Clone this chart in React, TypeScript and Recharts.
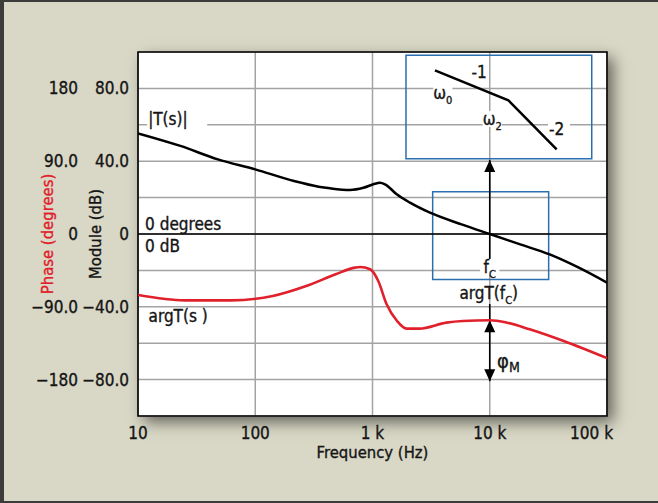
import React from 'react';
import {
  ComposedChart,
  Line,
  XAxis,
  YAxis,
  CartesianGrid,
  ReferenceLine,
  ReferenceArea,
  ReferenceDot,
  Label,
} from 'recharts';

const FONT = "'DejaVu Sans Condensed', 'Liberation Sans Narrow', 'DejaVu Sans', sans-serif";
const INK = '#151515';
const RED = '#e0202a';
const BLUE = '#2b6fae';

// |T(s)| in dB
const magFreq = [10, 23, 48, 100, 214, 347, 435, 643, 836, 1016, 1160, 1280, 1610, 2090, 3090, 5750, 10000, 18200, 32400, 57500, 100000];
const magDb = [55.3, 48.4, 41, 35.5, 29.1, 26, 25.1, 24.2, 25.4, 27.3, 28.2, 27.3, 21.8, 17.2, 11.7, 5.3, 0, -5.7, -11.2, -18.5, -26.7];

// argT(s) in degrees
const phaseFreq = [10, 25, 62, 141, 272, 485, 708, 783, 955, 1120, 1320, 1620, 1950, 2510, 4270, 5890, 10000, 14000, 21900, 42700, 100000];
const phaseDeg = [-75.4, -82, -82, -76.6, -64.3, -49.8, -41.6, -40.8, -43.6, -58.1, -86.9, -107.6, -117, -117, -109.6, -107.6, -106.7, -109.6, -117.8, -132.3, -153.5];

// asymptote sketch in the inset (-1 / -2 slopes)
const asymFreq = [3410, 14400, 37200];
const asymDb = [89.9, 73.5, 46.5];

// axes
const freqTicks = [10, 100, 1000, 10000, 100000];
const freqLabels = ['10', '100', '1 k', '10 k', '100 k'];
const dbGrid = [-100, -80, -60, -40, -20, 0, 20, 40, 60, 80, 100];
const dbTickValues = [80, 40, 0, -40, -80];
const dbTickLabels = ['80.0', '40.0', '0', '\u221240.0', '\u221280.0'];
const phaseTickLabels = ['180', '90.0', '0', '\u221290.0', '\u2212180'];

// crossover frequency and phase margin
const fc = 10000;
const phaseAtFc = -106.7;

const magData = magFreq.map((f, i) => ({ f, v: magDb[i] }));
const phaseData = phaseFreq.map((f, i) => ({ f, v: phaseDeg[i] }));
const asymData = asymFreq.map((f, i) => ({ f, v: asymDb[i] }));

const boxes = [
  { f1: 1930, f2: 74100, lo: 41.4, hi: 98.2 },
  { f1: 3260, f2: 31800, lo: -25, hi: 23.2 },
];

const notes = [
  { f: 12.2, db: 63.2, main: '|T(s)|', anchor: 'start', bg: true },
  { f: 11.5, db: 5.7, main: '0 degrees', anchor: 'start' },
  { f: 11.5, db: -6.6, main: '0 dB', anchor: 'start' },
  { f: 12.3, db: -45, main: 'argT(s )', anchor: 'start' },
  { f: 10000, db: -18.1, main: 'f', sub: 'C', anchor: 'middle', bg: true },
  { f: 9800, db: -32.4, main: 'argT(f', sub: 'C', tail: ')', anchor: 'middle' },
  { f: 11540, db: -69.8, main: '\u03c6', sub: 'M', anchor: 'start', big: true },
  { f: 3980, db: 77.5, main: '\u03c9', sub: '0', anchor: 'middle', bg: true },
  { f: 8100, db: 89, main: '-1', anchor: 'middle' },
  { f: 10500, db: 63.2, main: '\u03c9', sub: '2', anchor: 'middle', bg: true },
  { f: 32000, db: 57.7, main: '-2', anchor: 'start', bg: true },
];

const Note = ({ cx, cy, note }: any) => {
  const fs = note.big ? 20 : 17;
  const len = note.main.length + (note.sub ? note.sub.length * 0.7 : 0) + (note.tail ? note.tail.length : 0);
  const w = len * fs * 0.56 + 3;
  const left = note.anchor === 'start' ? cx - 1 : cx - w / 2;
  return (
    <g>
      {note.bg && <rect x={left} y={cy - 8} width={w} height={16} fill="#fff" />}
      <text
        x={cx}
        y={cy}
        dy="0.35em"
        textAnchor={note.anchor}
        fontFamily={FONT}
        fontSize={fs}
        fill={INK}
        stroke={INK}
        strokeWidth={0.35}
      >
        {note.main}
        {note.sub && (
          <tspan fontSize={note.big ? 14 : 11} dy={note.big ? 4 : 5}>
            {note.sub}
          </tspan>
        )}
        {note.tail && <tspan fontSize={fs} dy={-5}>{note.tail}</tspan>}
      </text>
    </g>
  );
};

const head = (x: number, y: number, dir: number) => (
  <polygon points={`${x},${y} ${x - 5.5},${y - dir * 12} ${x + 5.5},${y - dir * 12}`} fill="#000" />
);

// vertical arrow; heads drawn at start and/or end of the segment
const arrow = (startHead: boolean, endHead: boolean) => (p: any) => {
  const { x1, y1, x2, y2 } = p;
  const d = y2 > y1 ? 1 : -1;
  return (
    <g>
      <line x1={x1} y1={y1} x2={x2} y2={y2} stroke="#000" strokeWidth={1.6} />
      {endHead && head(x2, y2, d)}
      {startHead && head(x1, y1, -d)}
    </g>
  );
};

const YTick = ({ x, y, payload }: any) => {
  const i = dbTickValues.indexOf(payload.value);
  if (i < 0) return <g />;
  return (
    <g fontFamily={FONT} fontSize={17} fill={INK} stroke={INK} strokeWidth={0.35}>
      <text x={x} y={y} dy="0.35em" textAnchor="end">{dbTickLabels[i]}</text>
      <text x={x - 51} y={y} dy="0.35em" textAnchor="end">{phaseTickLabels[i]}</text>
    </g>
  );
};

const XTick = ({ x, y, payload, index }: any) => {
  const last = index === freqTicks.length - 1;
  return (
    <text
      x={last ? x + 6 : x}
      y={y}
      dy="0.35em"
      textAnchor={last ? 'end' : 'middle'}
      fontFamily={FONT}
      fontSize={17}
      fill={INK}
      stroke={INK}
      strokeWidth={0.35}
    >
      {freqLabels[index]}
    </text>
  );
};

export default function App() {
  return (
    <div
      style={{
        position: 'absolute',
        left: 0,
        top: 0,
        width: 658,
        height: 503,
        background: '#d9d8c6',
        boxShadow: 'inset 4px 0 0 #3c3c3c, inset 0 2px 0 #3c3c3c, inset 0 -2px 0 #3c3c3c',
      }}
    >
      <div
        style={{
          position: 'absolute',
          left: 138,
          top: 52,
          width: 469,
          height: 364,
          background: '#fff',
          boxShadow: '6px 6px 14px rgba(0,0,0,0.55)',
        }}
      />
      <div style={{ position: 'absolute', left: 0, top: 0 }}>
        <ComposedChart width={658} height={503} margin={{ top: 52, right: 51, bottom: 27, left: 8 }}>
          <CartesianGrid yAxisId="db" stroke="#a3a3a3" strokeWidth={1.5} />
          <XAxis
            dataKey="f"
            type="number"
            scale="log"
            domain={[10, 100000]}
            ticks={freqTicks}
            interval={0}
            allowDataOverflow
            axisLine={false}
            tickLine={false}
            tickSize={0}
            tickMargin={17}
            height={60}
            tick={<XTick />}
          >
            <Label
              content={({ viewBox }: any) => (
                <text
                  x={viewBox.x + viewBox.width / 2}
                  y={viewBox.y + 36}
                  dy="0.35em"
                  textAnchor="middle"
                  fontFamily={FONT}
                  fontSize={16.5}
                  fill={INK}
                  stroke={INK}
                  strokeWidth={0.35}
                >
                  Frequency (Hz)
                </text>
              )}
            />
          </XAxis>
          <YAxis
            yAxisId="db"
            type="number"
            domain={[-100, 100]}
            ticks={dbGrid}
            interval={0}
            allowDataOverflow
            axisLine={false}
            tickLine={false}
            tickSize={0}
            tickMargin={9}
            width={130}
            tick={<YTick />}
          >
            <Label
              content={({ viewBox }: any) => {
                const cy = viewBox.y + viewBox.height / 2;
                const px = viewBox.x + 39;
                const mx = viewBox.x + 87;
                return (
                  <g fontFamily={FONT} fontSize={16.5} strokeWidth={0.35}>
                    <text
                      x={px}
                      y={cy}
                      dy="0.35em"
                      textAnchor="middle"
                      fill={RED}
                      stroke={RED}
                      transform={`rotate(-90 ${px} ${cy})`}
                    >
                      Phase (degrees)
                    </text>
                    <text
                      x={mx}
                      y={cy}
                      dy="0.35em"
                      textAnchor="middle"
                      fill={INK}
                      stroke={INK}
                      transform={`rotate(-90 ${mx} ${cy})`}
                    >
                      Module (dB)
                    </text>
                  </g>
                );
              }}
            />
          </YAxis>
          <YAxis yAxisId="phase" type="number" domain={[-225, 225]} allowDataOverflow hide />

          <ReferenceLine yAxisId="db" y={0} stroke="#000" strokeWidth={1.5} />

          {boxes.map((b, i) => (
            <ReferenceArea
              key={i}
              yAxisId="db"
              x1={b.f1}
              x2={b.f2}
              y1={b.lo}
              y2={b.hi}
              fill="none"
              stroke={BLUE}
              strokeWidth={1.5}
            />
          ))}

          <ReferenceLine
            yAxisId="db"
            segment={[{ x: fc, y: -14 }, { x: fc, y: 40.7 }]}
            shape={arrow(false, true)}
          />
          <ReferenceLine
            yAxisId="phase"
            segment={[{ x: fc, y: -86.6 }, { x: fc, y: phaseAtFc }]}
            shape={arrow(false, false)}
          />
          <ReferenceLine
            yAxisId="phase"
            segment={[{ x: fc, y: -182 }, { x: fc, y: phaseAtFc }]}
            shape={arrow(true, true)}
          />

          {notes.map((n, i) => (
            <ReferenceDot
              key={i}
              yAxisId="db"
              x={n.f}
              y={n.db}
              r={0}
              shape={(p: any) => <Note cx={p.cx} cy={p.cy} note={n} />}
            />
          ))}

          <Line
            yAxisId="db"
            data={magData}
            dataKey="v"
            type="monotone"
            stroke="#000"
            strokeWidth={2.5}
            dot={false}
            isAnimationActive={false}
          />
          <Line
            yAxisId="phase"
            data={phaseData}
            dataKey="v"
            type="monotone"
            stroke={RED}
            strokeWidth={2.6}
            dot={false}
            isAnimationActive={false}
          />
          <Line
            yAxisId="db"
            data={asymData}
            dataKey="v"
            type="linear"
            stroke="#000"
            strokeWidth={2.5}
            dot={false}
            isAnimationActive={false}
          />

          <ReferenceArea
            yAxisId="db"
            x1={10}
            x2={100000}
            y1={-100}
            y2={100}
            fill="none"
            stroke="#000"
            strokeWidth={1.6}
          />
        </ComposedChart>
      </div>
    </div>
  );
}
